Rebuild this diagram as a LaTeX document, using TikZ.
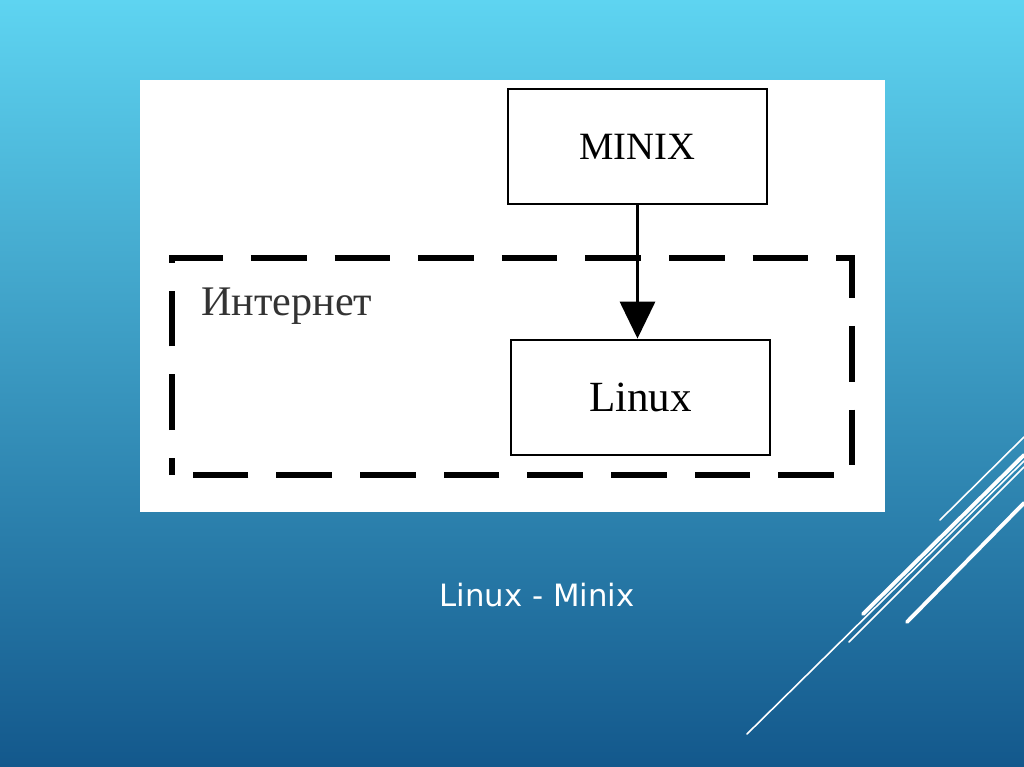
\documentclass[tikz,border=0pt]{standalone}
\usepackage{fontspec}
\setmainfont{Liberation Serif}
\newfontfamily\slidefont{DejaVu Sans}
\usetikzlibrary{arrows.meta}

\begin{document}
\begin{tikzpicture}[x = 0.02cm, y = -0.02cm,
	osbox/.style = {draw, line width = 1.4pt, minimum width = 5.18cm, minimum height = 2.3cm}]
	\useasboundingbox (0,0) rectangle (1024,767);
	\shade [top color = {rgb,255:red,94;green,212;blue,241}, middle color = {rgb,255:red,46;green,147;blue,196}, bottom color = {rgb,255:red,19;green,88;blue,140}] (0,0) rectangle (1024,767);
	\fill [white] (140,80) rectangle (885,512);
	\draw [line width = 3.8pt, dash pattern = on 31.7pt off 15.9pt, dash phase = 22pt] (172,475) -- (172,258) -- (852,258) -- (852,475) -- cycle;
	\node [osbox, font = \fontsize{22}{26}\selectfont] (minix) at (637.5,146.5) {MINIX};
	\node [osbox, font = \fontsize{24.5}{28}\selectfont, text depth = 0pt, yshift = -3pt] (linux) at (640.5,392) {Linux};
	\draw [-{Triangle[width = 20pt, length = 21pt]}, line width = 1.4pt] (minix.south) -- (minix.south |- linux.north);
	\node [anchor = west, font = \fontsize{24}{28}\selectfont, color = black!80] (internet) at (195,306) {Интернет};
	\node [text = white, font = \slidefont\fontsize{17.5}{21}\selectfont] (caption) at (537,595) {Linux - Minix};
	\foreach \xa/\ya/\xb/\yb/\w in {940/520/1024/437/0.9pt, 863/614/1024/455/2.2pt, 747/734/1024/461/0.9pt, 849/642/1024/467/0.9pt, 907/622/1024/503/2.2pt}
	\draw [white, line width = \w, line cap = round] (\xa,\ya) -- (\xb,\yb);
\end{tikzpicture}
\end{document}
